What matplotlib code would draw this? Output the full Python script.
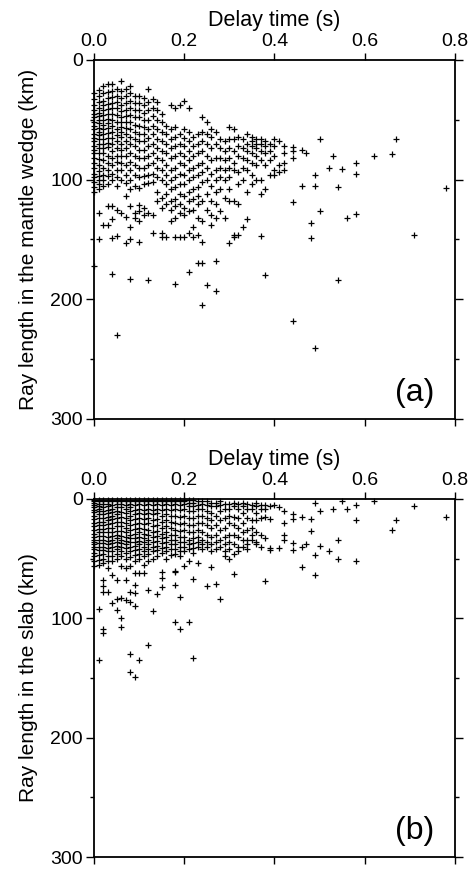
"""Ray length vs delay time: mantle wedge (a) and slab (b)."""

import matplotlib

matplotlib.use("Agg")
from matplotlib import pyplot as plt
from matplotlib.ticker import FormatStrFormatter, MultipleLocator

plt.rcParams["font.family"] = ["Liberation Sans", "DejaVu Sans"]

# delay time columns (s) and the ray lengths (km) read in each column
WEDGE_DELAY_S = [
    0.00, 0.01, 0.02, 0.03, 0.04, 0.05, 0.06, 0.07, 0.08, 0.09,
    0.10, 0.11, 0.12, 0.13, 0.14, 0.15, 0.16, 0.17, 0.18, 0.19,
    0.20, 0.21, 0.22, 0.23, 0.24, 0.25, 0.26, 0.27, 0.28, 0.29,
    0.30, 0.31, 0.32, 0.33, 0.34, 0.35, 0.36, 0.37, 0.38, 0.39,
    0.40, 0.41, 0.42, 0.44, 0.46, 0.47, 0.48, 0.49, 0.50, 0.52,
    0.53, 0.54, 0.55, 0.56, 0.58, 0.62, 0.66, 0.67, 0.71, 0.78,
]
WEDGE_LENGTH_KM = [
    [28, 33, 38, 42, 45, 48, 52, 55, 58, 62, 65, 68, 72, 75, 78, 82, 86, 90, 95, 98, 102, 106, 110, 172],
    [25, 30, 35, 40, 44, 47, 50, 53, 57, 60, 63, 66, 70, 74, 78, 83, 88, 93, 97, 100, 104, 108, 128, 150],
    [22, 28, 34, 38, 42, 46, 50, 54, 58, 62, 66, 70, 74, 78, 84, 90, 96, 100, 105, 138],
    [20, 27, 32, 37, 41, 45, 49, 53, 57, 61, 65, 69, 73, 80, 86, 92, 97, 104, 122, 138],
    [20, 26, 31, 36, 40, 45, 50, 55, 60, 65, 70, 76, 82, 88, 95, 100, 122, 133, 149, 179],
    [24, 30, 35, 40, 46, 52, 58, 63, 68, 74, 80, 85, 92, 98, 105, 125, 147, 230],
    [18, 26, 32, 38, 43, 48, 52, 56, 60, 64, 70, 75, 80, 86, 92, 100, 128],
    [24, 30, 36, 42, 47, 52, 57, 62, 68, 74, 80, 88, 96, 103, 114, 131, 153],
    [22, 28, 34, 40, 46, 52, 58, 64, 70, 78, 85, 92, 100, 108, 122, 140, 150, 183],
    [30, 36, 42, 48, 54, 60, 66, 72, 80, 88, 96, 105, 128, 132],
    [30, 36, 42, 48, 55, 62, 68, 75, 82, 90, 98, 107, 121, 126, 135, 152],
    [32, 38, 44, 50, 56, 62, 68, 75, 82, 90, 97, 104, 124, 130],
    [24, 35, 42, 50, 58, 65, 72, 80, 88, 96, 103, 128, 184],
    [33, 40, 47, 55, 62, 70, 78, 86, 95, 102, 130, 145],
    [35, 42, 50, 58, 66, 74, 82, 90, 98, 110, 118],
    [45, 52, 60, 68, 76, 84, 92, 100, 115, 124, 145, 148],
    [55, 62, 70, 78, 88, 96, 104, 112, 120, 148],
    [38, 58, 66, 74, 82, 92, 100, 108, 118, 125, 135],
    [40, 56, 64, 72, 80, 90, 98, 106, 116, 122, 132, 148, 187],
    [38, 62, 70, 78, 86, 95, 104, 112, 120, 128, 148],
    [34, 58, 65, 72, 80, 88, 96, 104, 114, 124, 130, 148],
    [40, 60, 68, 76, 84, 92, 100, 110, 118, 126, 145, 177],
    [64, 72, 80, 90, 98, 108, 116, 125, 140, 148],
    [62, 70, 78, 88, 96, 106, 114, 120, 132, 146, 170],
    [48, 60, 68, 76, 86, 94, 102, 118, 135, 152, 170, 205],
    [52, 62, 70, 80, 90, 100, 112, 125, 188],
    [58, 64, 74, 84, 95, 105, 118, 130, 138],
    [60, 70, 82, 92, 100, 110, 120, 132, 168, 193],
    [66, 74, 82, 90, 98, 108, 126],
    [68, 76, 84, 92, 100, 115, 132],
    [56, 66, 74, 82, 90, 98, 108, 118, 153],
    [58, 66, 76, 86, 92, 118, 146, 148],
    [64, 72, 80, 94, 104, 120, 146],
    [66, 74, 82, 90, 100, 140],
    [62, 70, 76, 84, 92, 110, 133],
    [64, 68, 72, 78, 86, 96, 104],
    [66, 70, 74, 80, 88, 100],
    [66, 70, 76, 84, 100, 112, 147],
    [68, 72, 78, 88, 108, 180],
    [70, 76, 84, 96],
    [66, 72, 80, 92, 96],
    [68, 88, 94],
    [72, 78, 86, 92],
    [73, 76, 82, 119, 218],
    [75, 105],
    [78],
    [136, 149],
    [96, 105, 241],
    [66, 126],
    [90],
    [80],
    [106, 184],
    [91],
    [132],
    [86, 95, 129],
    [80],
    [79],
    [66],
    [146],
    [107],
]

SLAB_DELAY_S = [
    0.00, 0.01, 0.02, 0.03, 0.04, 0.05, 0.06, 0.07, 0.08, 0.09,
    0.10, 0.11, 0.12, 0.13, 0.14, 0.15, 0.16, 0.17, 0.18, 0.19,
    0.20, 0.21, 0.22, 0.23, 0.24, 0.25, 0.26, 0.27, 0.28, 0.29,
    0.30, 0.31, 0.32, 0.33, 0.34, 0.35, 0.36, 0.37, 0.38, 0.39,
    0.40, 0.41, 0.42, 0.44, 0.46, 0.47, 0.48, 0.49, 0.50, 0.52,
    0.53, 0.54, 0.55, 0.56, 0.58, 0.62, 0.66, 0.67, 0.71, 0.78,
]
SLAB_LENGTH_KM = [
    [0.5, 1.5, 3, 5, 7, 9, 11, 14, 17, 20, 23, 26, 29, 32, 34, 36, 38, 40, 42, 45, 48, 52, 56],
    [0.5, 2, 4, 6, 8, 10, 13, 16, 19, 22, 25, 28, 31, 34, 37, 40, 43, 47, 51, 55, 92, 135],
    [0.5, 2, 4, 7, 10, 13, 16, 19, 22, 25, 28, 31, 34, 37, 40, 43, 46, 50, 54, 68, 73, 78, 109, 112],
    [0.5, 2, 4, 6, 9, 12, 15, 18, 21, 24, 28, 32, 35, 38, 41, 44, 48, 52, 58, 78],
    [0.5, 2, 5, 8, 11, 14, 17, 20, 24, 28, 31, 34, 37, 40, 44, 48, 52, 64, 87],
    [0.5, 2, 4, 7, 10, 13, 16, 19, 23, 27, 30, 33, 36, 39, 42, 46, 50, 68, 84, 93],
    [0.5, 2, 4, 7, 11, 15, 19, 23, 27, 31, 34, 37, 40, 44, 48, 56, 83, 100, 107],
    [0.5, 2, 5, 8, 12, 16, 20, 24, 28, 32, 35, 38, 41, 45, 50, 58, 68, 85],
    [0.5, 2, 4, 7, 10, 14, 18, 22, 26, 30, 33, 36, 40, 44, 49, 56, 78, 86, 130, 145],
    [0.5, 2, 5, 9, 13, 17, 21, 25, 29, 33, 36, 39, 43, 47, 52, 62, 72, 79, 90, 149],
    [0.5, 2, 4, 8, 12, 16, 20, 24, 28, 32, 35, 38, 42, 46, 50, 62, 135],
    [0.5, 2, 5, 9, 13, 17, 21, 25, 29, 33, 36, 40, 44, 48, 55, 62],
    [0.5, 2, 4, 8, 12, 16, 20, 26, 30, 34, 38, 42, 46, 52, 76, 122],
    [0.5, 2, 5, 9, 13, 18, 23, 28, 32, 36, 40, 44, 50, 94],
    [0.5, 2, 4, 8, 12, 17, 22, 27, 31, 35, 39, 43, 48, 80],
    [0.5, 2, 5, 9, 14, 19, 24, 29, 33, 37, 41, 45, 61, 66, 74],
    [0.5, 2, 4, 8, 13, 18, 23, 28, 32, 36, 40, 44, 50],
    [0.5, 2, 5, 9, 14, 19, 24, 30, 34, 38, 42, 47],
    [0.5, 2, 4, 8, 14, 20, 26, 30, 34, 38, 42, 46, 60, 61, 72, 103],
    [0.5, 2, 5, 9, 15, 21, 27, 32, 36, 40, 44, 48, 82, 109],
    [0.5, 2, 4, 8, 14, 20, 26, 32, 36, 40, 44, 56],
    [1, 3, 6, 10, 16, 22, 28, 34, 38, 42, 52, 103],
    [1, 3, 6, 10, 16, 22, 28, 33, 37, 41, 45, 67, 133],
    [2, 5, 8, 14, 20, 26, 32, 36, 40, 54],
    [2, 4, 8, 14, 20, 28, 34, 38, 42],
    [2, 5, 10, 16, 22, 30, 36, 40, 73],
    [3, 6, 12, 18, 24, 32, 38, 44, 57],
    [3, 6, 14, 22, 30, 36, 42, 71],
    [2, 5, 10, 18, 26, 34, 40, 84],
    [4, 8, 16, 24, 32, 38, 44, 48],
    [4, 8, 14, 20, 30, 36, 42, 50],
    [3, 6, 15, 22, 30, 38, 46, 63],
    [4, 8, 16, 24, 32, 40, 44],
    [3, 6, 12, 20, 28, 34, 40],
    [4, 8, 16, 26, 34, 38, 42],
    [5, 8, 18, 24, 30, 34],
    [3, 6, 12, 18, 28, 36, 38],
    [5, 8, 16, 30, 40],
    [5, 8, 15, 33, 69],
    [6, 17, 41, 43],
    [5],
    [7, 41],
    [10, 20, 30, 34],
    [13, 17, 37, 43],
    [15, 40, 57],
    [38],
    [17, 27],
    [3, 47, 64],
    [10, 39],
    [44],
    [8],
    [34, 50],
    [2],
    [8],
    [5, 18, 52],
    [2],
    [26],
    [18],
    [6],
    [15],
]

PANELS = [
    ("Ray length in the mantle wedge (km)", "(a)", WEDGE_DELAY_S, WEDGE_LENGTH_KM),
    ("Ray length in the slab (km)", "(b)", SLAB_DELAY_S, SLAB_LENGTH_KM),
]


def _flatten(delays, lengths):
    xs, ys = [], []
    for delay, column in zip(delays, lengths, strict=True):
        for length in column:
            xs.append(delay)
            ys.append(length)
    return xs, ys


fig = plt.figure(figsize=(4.7, 8.69), dpi=100)
rects = [
    [0.200, 0.518, 0.768, 0.413],
    [0.200, 0.0138, 0.768, 0.412],
]

for rect, (ylabel, tag, delays, lengths) in zip(rects, PANELS):
    ax = fig.add_axes(rect)
    xs, ys = _flatten(delays, lengths)
    ax.plot(xs, ys, linestyle="none", marker="+", markersize=4.8,
            markeredgewidth=0.9, color="black", clip_on=False)

    ax.set_xlim(0.0, 0.8)
    ax.set_ylim(300, 0)
    ax.xaxis.set_major_locator(MultipleLocator(0.2))
    ax.xaxis.set_major_formatter(FormatStrFormatter("%.1f"))
    ax.yaxis.set_major_locator(MultipleLocator(100))
    ax.yaxis.set_minor_locator(MultipleLocator(50))

    ax.xaxis.set_label_position("top")
    ax.tick_params(axis="x", top=True, bottom=True, labeltop=True,
                   labelbottom=False, direction="out", length=5, width=1,
                   labelsize=14, pad=2)
    ax.tick_params(axis="y", which="major", left=True, right=True,
                   direction="out", length=6, width=1, labelsize=14, pad=2)
    ax.tick_params(axis="y", which="minor", left=True, right=True,
                   direction="out", length=3, width=1)

    ax.set_xlabel("Delay time (s)", fontsize=15.5, labelpad=5)
    ax.set_ylabel(ylabel, fontsize=15, labelpad=9)
    for spine in ax.spines.values():
        spine.set_linewidth(1.3)

    ax.text(0.889, 0.072, tag, transform=ax.transAxes, fontsize=23,
            ha="center", va="center")

fig.savefig("out.png", dpi=100)
